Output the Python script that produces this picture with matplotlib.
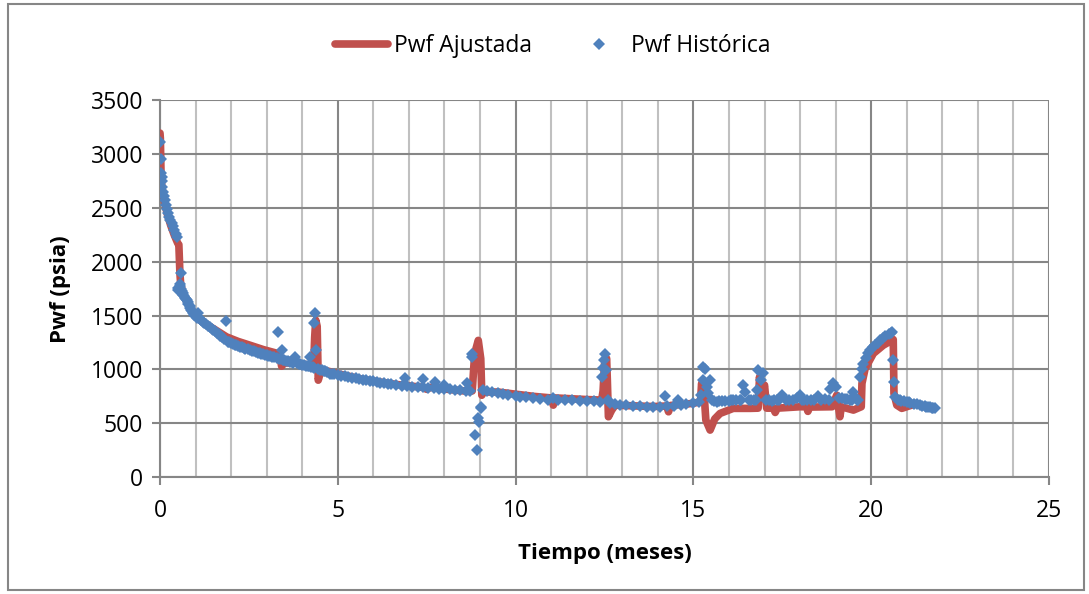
import numpy as np
import matplotlib.pyplot as plt
from matplotlib.patches import Rectangle

plt.rcParams["font.family"] = ["Open Sans", "DejaVu Sans"]

# Pwf Ajustada (fitted curve)
fit_t = [0.00, 0.01, 0.03, 0.05, 0.10, 0.20, 0.30, 0.40, 0.50, 0.53, 0.56, 0.58, 0.65,
         0.75, 0.90, 1.00, 1.20, 1.50, 1.87, 2.20, 2.53, 2.90, 3.28, 3.36, 3.42, 3.50,
         3.80, 4.20, 4.32, 4.35, 4.38, 4.42, 4.45, 4.50, 4.60, 5.00, 5.70, 6.65, 7.40,
         7.50, 7.60, 8.00, 8.70, 8.78, 8.85, 8.95, 9.02, 9.05, 9.10, 9.50, 10.00, 10.50,
         11.00, 11.06, 11.12, 12.00, 12.42, 12.46, 12.50, 12.56, 12.58, 12.61, 12.70,
         12.80, 13.00, 13.87, 14.25, 14.30, 14.36, 15.00, 15.20, 15.23, 15.30, 15.35,
         15.47, 15.60, 15.75, 16.12, 16.60, 16.82, 16.86, 16.90, 17.00, 17.06, 17.25,
         17.30, 17.36, 18.00, 18.18, 18.22, 18.27, 18.90, 19.03, 19.12, 19.16, 19.50,
         19.72, 19.74, 19.83, 20.06, 20.34, 20.62, 20.64, 20.72, 20.86, 21.28, 21.65]
fit_p = [3197, 3150, 2800, 2700, 2600, 2450, 2340, 2250, 2172, 2160, 1894, 1800, 1700,
         1630, 1540, 1500, 1440, 1380, 1303, 1260, 1225, 1185, 1151, 1140, 1030, 1060,
         1060, 1040, 1040, 1300, 1458, 1400, 900, 960, 995, 960, 908, 860, 833,
         815, 833, 818, 795, 800, 1150, 1270, 1100, 760, 790, 790, 770, 750,
         735, 668, 735, 720, 715, 800, 1050, 1102, 900, 560, 620,
         668, 665, 655, 660, 606, 665, 685, 700, 870, 780, 529,
         436, 540, 591, 638, 638, 640, 931, 740, 854, 640, 640,
         600, 640, 653, 653, 610, 650, 653, 761, 560, 653, 622,
         653, 870, 1009, 1148, 1225, 1278, 777, 668, 638, 684, 638]

hist_t = [0.00, 0.03, 0.05, 0.07, 0.09, 0.11, 0.14, 0.17, 0.20, 0.23, 0.26, 0.29, 0.33,
          0.36, 0.40, 0.44, 0.47, 0.50, 0.53, 0.56, 0.60, 0.62, 0.66, 0.70, 0.75, 0.80,
          0.85, 0.90, 0.94, 1.00, 1.05, 1.07, 1.12, 1.20, 1.28, 1.35, 1.41, 1.50, 1.60,
          1.70, 1.80, 1.86, 1.90, 2.00, 2.10, 2.20, 2.30, 2.40, 2.53, 2.60, 2.70, 2.80,
          2.90, 3.00, 3.10, 3.20, 3.28, 3.31, 3.40, 3.42, 3.50, 3.60, 3.70, 3.80, 3.85,
          3.95, 4.05, 4.15, 4.22, 4.25, 4.33, 4.34, 4.36, 4.40, 4.45, 4.50, 4.60, 4.70,
          4.78, 4.90, 5.00, 5.10, 5.20, 5.30, 5.40, 5.50, 5.60, 5.72, 5.80, 5.90, 6.00,
          6.10, 6.20, 6.30, 6.40, 6.50, 6.65, 6.80, 6.89, 6.95, 7.10, 7.25, 7.40, 7.40,
          7.55, 7.70, 7.73, 7.85, 8.00, 8.00, 8.15, 8.30, 8.45, 8.60, 8.62, 8.72, 8.76,
          8.78, 8.86, 8.91, 8.95, 8.97, 9.02, 9.04, 9.09, 9.20, 9.35, 9.50, 9.65, 9.80,
          10.00, 10.12, 10.30, 10.50, 10.70, 10.90, 11.06, 11.20, 11.40, 11.60, 11.80,
          12.00, 12.20, 12.37, 12.42, 12.45, 12.49, 12.51, 12.55, 12.60, 12.65, 12.80,
          12.94, 13.10, 13.30, 13.50, 13.70, 13.87, 14.05, 14.20, 14.25, 14.45, 14.58,
          14.65, 14.80, 15.00, 15.15, 15.22, 15.26, 15.28, 15.32, 15.38, 15.42, 15.47,
          15.52, 15.65, 15.80, 16.00, 16.12, 16.30, 16.40, 16.45, 16.55, 16.70, 16.80,
          16.83, 16.90, 16.97, 17.05, 17.20, 17.35, 17.50, 17.60, 17.80, 18.00, 18.05,
          18.20, 18.40, 18.50, 18.60, 18.80, 18.85, 18.93, 19.00, 19.10, 19.25, 19.40,
          19.50, 19.60, 19.68, 19.73, 19.78, 19.85, 19.90, 19.97, 20.05, 20.10, 20.18,
          20.25, 20.33, 20.40, 20.50, 20.58, 20.60, 20.64, 20.67, 20.75, 20.85, 21.00,
          21.10, 21.20, 21.37, 21.50, 21.60, 21.70, 21.79,
          # extra points filling the dense band
          0.02, 0.06, 0.52, 0.55, 0.58, 0.64, 0.68, 0.72, 0.78, 0.83, 0.88, 0.97,
          1.15, 1.25, 1.45, 1.55, 1.65, 1.75, 1.95, 2.05, 2.15, 2.25, 2.35, 2.47,
          2.65, 2.75, 2.85, 2.95, 3.05, 3.15, 3.35, 3.45, 3.55, 3.65, 3.75, 3.90,
          4.00, 4.10, 4.20, 4.30, 4.55, 4.65, 4.85, 15.58, 15.72, 15.90, 16.06,
          16.20, 16.35, 16.62, 16.75, 17.12, 17.28, 17.42, 17.70, 17.90, 18.12,
          18.30, 18.70, 19.18, 19.32, 19.45, 19.55, 19.64, 20.55, 20.80, 20.92,
          21.05, 21.28, 21.44, 21.55, 21.65, 21.75]
hist_p = [3110, 2822, 2790, 2700, 2649, 2610, 2572, 2530, 2490, 2450, 2420, 2390, 2357,
          2330, 2295, 2262, 2231, 1735, 1760, 1790, 1897, 1730, 1690, 1665, 1643, 1605,
          1570, 1540, 1522, 1500, 1480, 1525, 1465, 1440, 1420, 1405, 1395, 1370, 1340,
          1312, 1285, 1451, 1258, 1245, 1230, 1218, 1205, 1192, 1179, 1172, 1162, 1150,
          1140, 1130, 1122, 1112, 1105, 1346, 1095, 1179, 1085, 1075, 1066, 1114, 1056,
          1048, 1040, 1032, 1117, 1025, 1010, 1433, 1522, 1179, 1000, 995, 990, 975,
          960, 955, 950, 943, 937, 930, 922, 917, 910, 905, 898, 893, 888,
          884, 878, 872, 866, 860, 854, 849, 919, 845, 840, 836, 910, 833,
          828, 825, 885, 820, 855, 820, 815, 810, 805, 800, 870, 795, 1117,
          1140, 390, 251, 545, 510, 640, 653, 808, 800, 790, 782, 772, 762,
          752, 746, 740, 733, 726, 720, 733, 718, 714, 712, 710,
          707, 703, 700, 931, 1010, 1086, 1148, 993, 720, 690, 675,
          668, 665, 662, 658, 655, 653, 655, 752, 658, 662, 715,
          668, 675, 684, 700, 760, 900, 1024, 1000, 840, 777, 900,
          720, 699, 705, 710, 720, 712, 854, 792, 715, 712, 808,
          993, 900, 963, 720, 710, 715, 760, 712, 715, 761, 715,
          712, 718, 750, 715, 720, 820, 870, 840, 730, 725, 720,
          792, 715, 931, 1000, 1055, 1110, 1150, 1179, 1205, 1225, 1250,
          1272, 1292, 1310, 1330, 1349, 1086, 885, 746, 720, 705, 699,
          690, 680, 668, 658, 650, 645, 638,
          2960, 2750, 1760, 1780, 1745, 1710, 1680, 1655, 1625, 1590, 1555, 1510,
          1455, 1430, 1380, 1355, 1325, 1298, 1252, 1238, 1224, 1212, 1198, 1186,
          1167, 1156, 1145, 1135, 1126, 1117, 1100, 1090, 1080, 1070, 1061, 1052,
          1044, 1036, 1028, 1020, 992, 985, 957, 710, 702, 707, 712,
          716, 714, 712, 720, 713, 716, 712, 718, 730, 714,
          720, 725, 732, 722, 718, 740, 712, 1340, 712, 702,
          695, 675, 662, 655, 648, 642]

fig = plt.figure(figsize=(10.89, 5.94), dpi=100)
ax = fig.add_axes([160 / 1089, 117 / 594, 889 / 1089, 376.5 / 594])

ax.plot(fit_t, fit_p, color="#C0504D", linewidth=5.5, solid_capstyle="round",
        solid_joinstyle="round", label="Pwf Ajustada", zorder=3)
ax.plot(hist_t, hist_p, linestyle="none", marker="D", markersize=6.5,
        color="#4F81BD", markeredgewidth=0, label="Pwf Histórica", zorder=4)

ax.set_xlim(0, 25)
ax.set_ylim(0, 3500)
ax.set_xticks(np.arange(0, 26, 5))
ax.set_xticks(np.arange(0, 26, 1), minor=True)
ax.set_yticks(np.arange(0, 3501, 500))

ax.grid(which="major", color="#868686", linewidth=1.5)
ax.grid(which="minor", axis="x", color="#C0C0C0", linewidth=1.5)
ax.set_axisbelow(True)

for side in ["top", "right"]:
    ax.spines[side].set_visible(False)
for side in ["left", "bottom"]:
    ax.spines[side].set_color("#868686")
    ax.spines[side].set_linewidth(1.5)

ax.tick_params(which="major", length=6, width=1.5, color="#868686",
               labelsize=16.5, pad=6)
ax.tick_params(which="minor", length=0)
ax.tick_params(axis="x", pad=10)

ax.set_xlabel("Tiempo (meses)", fontsize=16, fontweight="bold")
ax.set_ylabel("Pwf (psia)", fontsize=16, fontweight="bold")
ax.xaxis.set_label_coords(0.5, -0.175)
ax.yaxis.set_label_coords(-0.1, 0.5)

fig.legend(loc="center", bbox_to_anchor=(553 / 1089, 1 - 46 / 594), ncol=2,
           frameon=False, fontsize=16.5, handlelength=2.3, columnspacing=1.8,
           handletextpad=0.25, markerscale=0.9)

fig.patches.append(Rectangle((8 / 1089, 4 / 594), 1076 / 1089, 586 / 594,
                             transform=fig.transFigure, fill=False,
                             edgecolor="#868686", linewidth=1.5))

fig.savefig("out.png", dpi=100)
